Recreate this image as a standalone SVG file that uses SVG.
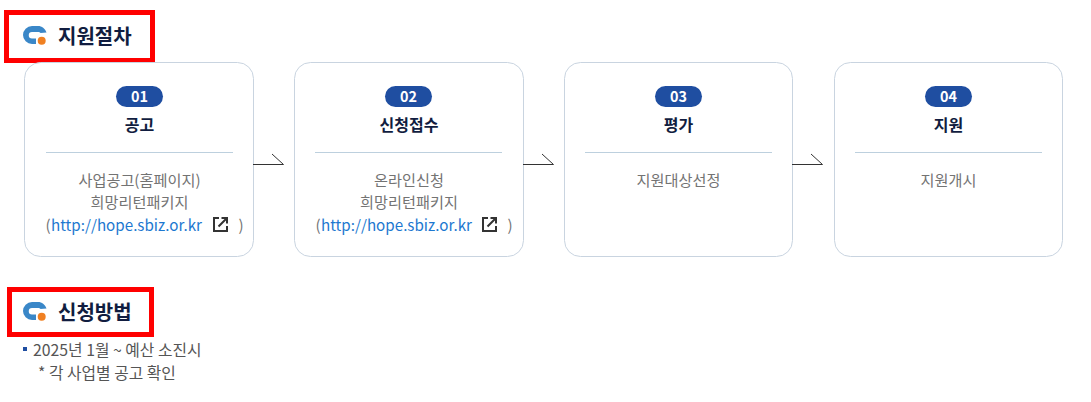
<svg xmlns="http://www.w3.org/2000/svg" width="1091" height="402" viewBox="0 0 1091 402">
<style>
text{font-family:"Noto Sans CJK KR","Noto Sans",sans-serif}
.card{fill:#fff;stroke:#c9d4e0;stroke-width:1}
.pill{fill:#1f4ea1}
.num{font-size:14.400px;font-weight:700;fill:#fff;text-anchor:middle}
.ttl{font-size:16px;font-weight:700;fill:#111d40;text-anchor:middle}
.rule{stroke:#bdd0de;stroke-width:1}
.body{font-size:15.200px;fill:#737373;text-anchor:middle}
.link{font-size:15.200px;fill:#1d78d0}
.head{font-size:20px;font-weight:700;fill:#111d40}
.red{fill:none;stroke:#f00;stroke-width:5}
.arrow{fill:none;stroke:#333;stroke-width:1}
.list{font-size:15.800px;fill:#555}
</style>
<defs>
<g id="logo">
<path d="M9 0H15C19 0 22 2.500 23.500 6.500L17.500 7C17 6.300 16 6 15 6H9A3.250 3.250 0 0 0 9 12.500H13V18H9A9 9 0 0 1 9 0Z" fill="#3a87c8"/>
<circle cx="18.700" cy="14.700" r="4" fill="#f08022"/>
</g>
<g id="ext" fill="none" stroke="#333" stroke-width="2">
<path d="M6 1H1V14H14V9"/><path d="M5.500 9.500L13 2M8.500 1H14V6.500"/>
</g>
</defs>
<g id="heading1">
<rect class="red" x="6.500" y="12.500" width="146" height="48"/>
<use href="#logo" x="23" y="26"/>
<text class="head" x="58" y="44">지원절차</text>
</g>
<g id="node1">
<rect class="card" x="24.500" y="62.500" width="229" height="194" rx="16"/>
<rect class="pill" x="116" y="86" width="47" height="21" rx="10.500"/>
<text class="num" x="139.500" y="102">01</text>
<text class="ttl" x="139.500" y="131">공고</text>
<line class="rule" x1="46" y1="152.500" x2="233" y2="152.500"/>
<text class="body" x="139.500" y="186">사업공고(홈페이지)</text>
<text class="body" x="139.500" y="208">희망리턴패키지</text>
<text class="body" x="48" y="231">(</text>
<text class="link" x="51" y="231">http://hope.sbiz.or.kr</text>
<use href="#ext" x="213" y="217"/>
<text class="body" x="241" y="231">)</text>
</g>
<g id="node2">
<rect class="card" x="294.500" y="62.500" width="229" height="194" rx="16"/>
<rect class="pill" x="385" y="86" width="47" height="21" rx="10.500"/>
<text class="num" x="408.500" y="102">02</text>
<text class="ttl" x="409" y="131">신청접수</text>
<line class="rule" x1="315" y1="152.500" x2="502" y2="152.500"/>
<text class="body" x="409" y="186">온라인신청</text>
<text class="body" x="409" y="208">희망리턴패키지</text>
<text class="body" x="318" y="231">(</text>
<text class="link" x="321" y="231">http://hope.sbiz.or.kr</text>
<use href="#ext" x="482" y="217"/>
<text class="body" x="510" y="231">)</text>
</g>
<g id="node3">
<rect class="card" x="564.500" y="62.500" width="228" height="194" rx="16"/>
<rect class="pill" x="655" y="86" width="47" height="21" rx="10.500"/>
<text class="num" x="678.500" y="102">03</text>
<text class="ttl" x="678.500" y="131">평가</text>
<line class="rule" x1="585" y1="152.500" x2="772" y2="152.500"/>
<text class="body" x="678.500" y="186">지원대상선정</text>
</g>
<g id="node4">
<rect class="card" x="834.500" y="62.500" width="228" height="194" rx="16"/>
<rect class="pill" x="925" y="86" width="47" height="21" rx="10.500"/>
<text class="num" x="948.500" y="102">04</text>
<text class="ttl" x="948.500" y="131">지원</text>
<line class="rule" x1="855" y1="152.500" x2="1042" y2="152.500"/>
<text class="body" x="948.500" y="186">지원개시</text>
</g>
<g id="connectors">
<path class="arrow" d="M253 164.500H283.500L272 154"/>
<path class="arrow" d="M523 164.500H553.500L542 154"/>
<path class="arrow" d="M792 164.500H822.500L811 154"/>
</g>
<g id="heading2">
<rect class="red" x="9.500" y="289.500" width="142" height="45"/>
<use href="#logo" x="23" y="302"/>
<text class="head" x="58" y="320">신청방법</text>
</g>
<g id="method">
<rect x="23" y="347" width="4" height="4" fill="#1f4ea1"/>
<text class="list" x="33" y="356">2025년 1월 ~ 예산 소진시</text>
<text class="list" x="38" y="379">* 각 사업별 공고 확인</text>
</g>
</svg>
